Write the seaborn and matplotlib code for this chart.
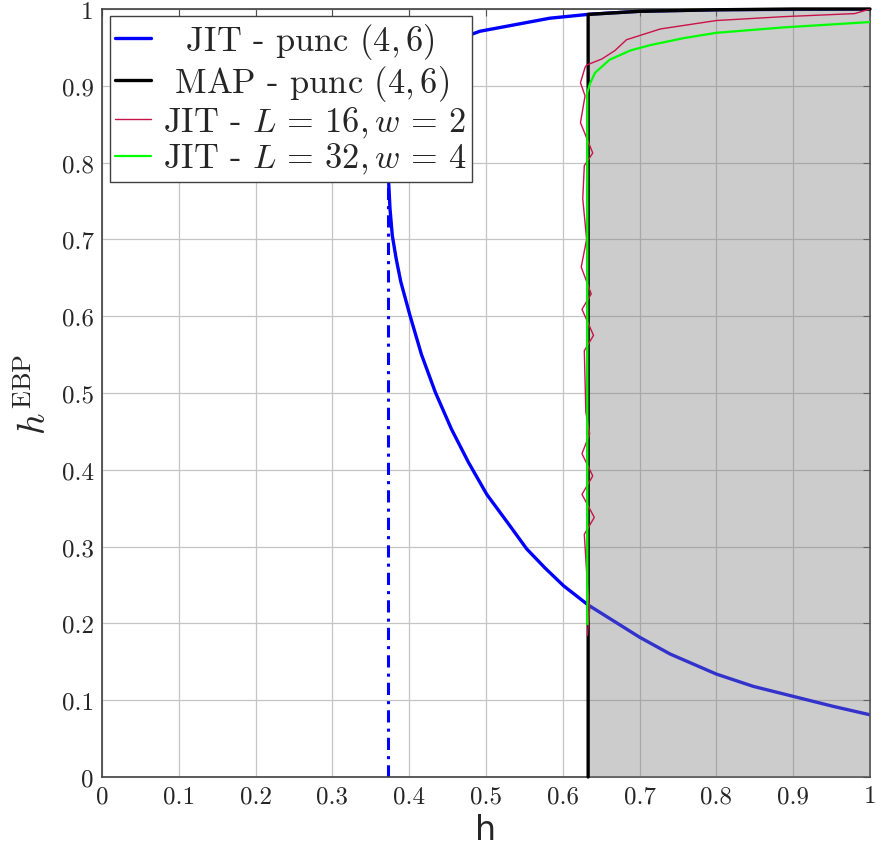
import matplotlib
matplotlib.use("Agg")
import matplotlib.pyplot as plt
import seaborn as sns

# JIT - punc (4,6): upper branch from h=1 back to the turning point, then lower branch
jit_punc_x = [1.0, 0.9, 0.8, 0.7, 0.633, 0.583, 0.492, 0.481, 0.43, 0.40, 0.385, 0.376,
              0.373, 0.373, 0.375, 0.378, 0.383, 0.389, 0.401, 0.416, 0.434, 0.455, 0.477,
              0.501, 0.529, 0.553, 0.577, 0.601, 0.633, 0.70, 0.74, 0.80, 0.848, 0.90,
              0.952, 1.0]
jit_punc_y = [1.0, 0.9995, 0.999, 0.997, 0.993, 0.988, 0.971, 0.967, 0.955, 0.94, 0.92, 0.88,
              0.82, 0.779, 0.74, 0.705, 0.675, 0.645, 0.601, 0.55, 0.501, 0.453, 0.41,
              0.368, 0.33, 0.297, 0.272, 0.249, 0.224, 0.182, 0.160, 0.134, 0.118, 0.105,
              0.092, 0.081]

# BP threshold marker
bp_x = [0.373, 0.373]
bp_y = [0.0, 0.82]

# MAP - punc (4,6)
map_x = [0.633, 0.633, 0.70, 0.80, 0.90, 1.0]
map_y = [0.0, 0.993, 0.997, 0.999, 1.0, 1.0]

# JIT - L=16, w=2
red_x = [1.0, 0.980, 0.887, 0.800, 0.727, 0.683, 0.668, 0.651, 0.631, 0.629, 0.623, 0.629,
         0.623, 0.639, 0.628, 0.626, 0.631, 0.624, 0.637, 0.625, 0.640, 0.628, 0.630, 0.635,
         0.625, 0.639, 0.625, 0.641, 0.628, 0.632, 0.635, 0.632]
red_y = [1.0, 0.994, 0.990, 0.985, 0.974, 0.960, 0.946, 0.935, 0.927, 0.924, 0.904, 0.887,
         0.852, 0.8125, 0.796, 0.753, 0.700, 0.664, 0.629, 0.609, 0.575, 0.555, 0.475, 0.447,
         0.421, 0.392, 0.368, 0.338, 0.316, 0.251, 0.219, 0.184]

# JIT - L=32, w=4
green_x = [0.632, 0.632, 0.635, 0.642, 0.661, 0.688, 0.714, 0.757, 0.800, 0.887, 1.0]
green_y = [0.199, 0.891, 0.902, 0.917, 0.934, 0.946, 0.953, 0.962, 0.969, 0.976, 0.983]

ticks = [0, 0.1, 0.2, 0.3, 0.4, 0.5, 0.6, 0.7, 0.8, 0.9, 1]
tick_labels = ["0", "0.1", "0.2", "0.3", "0.4", "0.5", "0.6", "0.7", "0.8", "0.9", "1"]

sns.set_style("white")
plt.rcParams["font.family"] = ["cmr10", "DejaVu Serif"]
plt.rcParams["mathtext.fontset"] = "cm"
plt.rcParams["axes.formatter.use_mathtext"] = True

fig = plt.figure(figsize=(8.77, 8.53), dpi=100)
ax = fig.add_axes([102 / 877, 75 / 853, 768 / 877, 768 / 853])

sns.lineplot(x=jit_punc_x, y=jit_punc_y, sort=False, estimator=None, color="#0000ff",
             lw=2.4, ax=ax, label="  JIT - punc $(4,6)$", zorder=2)
sns.lineplot(x=bp_x, y=bp_y, sort=False, estimator=None, color="#0000ff", lw=2.2,
             linestyle=(0, (4, 2, 1, 2)), ax=ax, zorder=2)
ax.fill_between(map_x[1:], 0, map_y[1:], color="#808080", alpha=0.4, lw=0, zorder=3)
sns.lineplot(x=map_x, y=map_y, sort=False, estimator=None, color="black", lw=2.4,
             ax=ax, label=" MAP - punc $(4,6)$", zorder=4, clip_on=False)
sns.lineplot(x=red_x, y=red_y, sort=False, estimator=None, color="#c8124a", lw=1.0,
             ax=ax, label=r"JIT - $L\,=\,16, w\,=\,2$", zorder=5)
sns.lineplot(x=green_x, y=green_y, sort=False, estimator=None, color="#00ff00", lw=1.6,
             ax=ax, label=r"JIT - $L\,=\,32, w\,=\,4$", zorder=6)

ax.set_xlim(0, 1)
ax.set_ylim(0, 1)
ax.set_xticks(ticks, tick_labels)
ax.set_yticks(ticks, tick_labels)
ax.tick_params(direction="in", length=5, width=0.8, color="#505050", labelsize=18,
               top=True, right=True, pad=6)
ax.grid(True, color="#c4c4c4", lw=0.9)
ax.set_axisbelow(True)
for s in ax.spines.values():
    s.set_color("#404040")
    s.set_linewidth(1.2)

ax.set_xlabel("h", fontsize=24, family="DejaVu Sans", labelpad=4)
ax.set_ylabel(r"$h^{\mathrm{EBP}}$", fontsize=27, labelpad=6)

leg = ax.legend(loc="upper left", bbox_to_anchor=(0.0104, 0.991), borderaxespad=0,
                fontsize=24.8, frameon=True, fancybox=False, framealpha=1,
                edgecolor="#404040", handlelength=1.05, handletextpad=0.35,
                labelspacing=0.05, borderpad=0.15)
leg.get_frame().set_linewidth(1.0)

fig.savefig("out.png", dpi=100)
